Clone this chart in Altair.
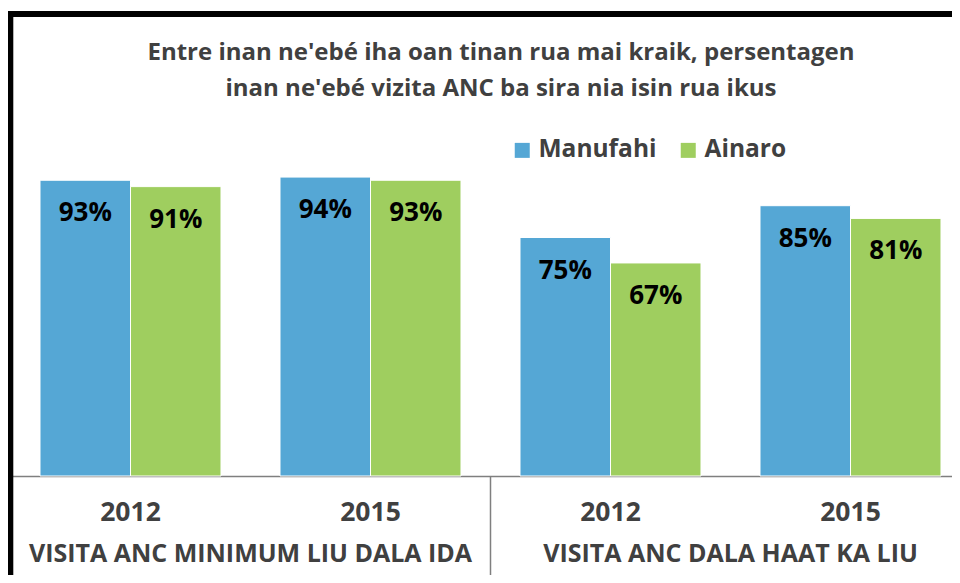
import altair as alt
import pandas as pd

categories = ["VISITA ANC MINIMUM LIU DALA IDA", "VISITA ANC DALA HAAT KA LIU"]
years = ["2012", "2015"]
series = ["Manufahi", "Ainaro"]
manufahi = [93, 94, 75, 85]
ainaro = [91, 93, 67, 81]
title_lines = [
    "Entre inan ne'ebé iha oan tinan rua mai kraik, persentagen",
    "inan ne'ebé vizita ANC ba sira nia isin rua ikus",
]
colors = ["#55A7D5", "#9FCE5F"]

FONT = "Open Sans"
GREY = "#404040"
W, H = 937, 318

rows = []
keys = []
for ci, cat in enumerate(categories):
    for yi, yr in enumerate(years):
        k = f"{cat}|{yr}"
        keys.append(k)
        idx = ci * 2 + yi
        rows.append(dict(key=k, series=series[0], value=manufahi[idx]))
        rows.append(dict(key=k, series=series[1], value=ainaro[idx]))
df = pd.DataFrame(rows)
cat_df = pd.DataFrame({"key": [f"{c}|{years[0]}" for c in categories], "label": categories})
sep_df = pd.DataFrame({"key": [f"{categories[1]}|{years[0]}"]})
one = pd.DataFrame({"a": [0]})

xscale = alt.Scale(domain=keys, range=[-4.5, 955.5], paddingInner=0, paddingOuter=0)
xaxis = alt.Axis(
    labelExpr="split(datum.value, '|')[1]",
    labelFont=FONT, labelFontSize=26.5, labelFontWeight="bold", labelColor=GREY,
    labelPadding=23, labelAngle=0, ticks=False, grid=False,
    domainColor="#7F7F7F", domainWidth=1.5, title=None,
    labelOverlap=False, labelBound=False,
)
x_enc = alt.X("key:N", scale=xscale, sort=keys, axis=xaxis)
xoff = alt.XOffset("series:N", sort=series,
                   scale=alt.Scale(domain=series, paddingInner=0, paddingOuter=0.326))
y_enc = alt.Y("value:Q", scale=alt.Scale(domain=[0, 100]), axis=None)

bars = alt.Chart(df).mark_bar(stroke="white", strokeWidth=1).encode(
    x=x_enc, xOffset=xoff, y=y_enc,
    color=alt.Color(
        "series:N", sort=series,
        scale=alt.Scale(domain=series, range=colors),
        legend=alt.Legend(
            title=None, orient="none", legendX=495, legendY=-20, direction="horizontal",
            symbolType="square", symbolSize=225, symbolStrokeWidth=0,
            labelFont=FONT, labelFontSize=24.5, labelFontWeight="bold", labelColor=GREY,
            labelOffset=4, columnPadding=19,
        ),
    ),
)

labels = alt.Chart(df).transform_calculate(
    lab="datum.value + '%'"
).mark_text(font=FONT, fontSize=26, fontWeight="bold", color="black",
            baseline="middle", dy=33).encode(
    x=x_enc, xOffset=xoff, y=y_enc, text="lab:N"
)

cat_text = alt.Chart(cat_df).mark_text(
    font=FONT, fontSize=25, fontWeight="bold", color=GREY, baseline="middle"
).encode(
    x=alt.X("key:N", scale=xscale, sort=keys, axis=xaxis, bandPosition=1),
    y=alt.value(H + 78),
    text="label:N",
)

sep = alt.Chart(sep_df).mark_rule(color="#7F7F7F", strokeWidth=1.5).encode(
    x=alt.X("key:N", scale=xscale, sort=keys, axis=xaxis, bandPosition=0),
    y=alt.value(H), y2=alt.value(H + 130),
)

border_top = alt.Chart(one).mark_rule(color="black", strokeWidth=6).encode(
    x=alt.value(-8), x2=alt.value(W + 20), y=alt.value(-144)
)
border_left = alt.Chart(one).mark_rule(color="black", strokeWidth=6).encode(
    x=alt.value(-4.7), y=alt.value(-147), y2=alt.value(H + 130)
)

title1 = alt.Chart(one).mark_text(
    font=FONT, fontSize=24, fontWeight="bold", color=GREY, baseline="middle"
).encode(x=alt.value(486), y=alt.value(-105), text=alt.value(title_lines[0]))
title2 = alt.Chart(one).mark_text(
    font=FONT, fontSize=24, fontWeight="bold", color=GREY, baseline="middle"
).encode(x=alt.value(486), y=alt.value(-69), text=alt.value(title_lines[1]))

chart = alt.layer(
    bars, labels, cat_text, sep, border_top, border_left, title1, title2
).properties(
    width=W, height=H,
    autosize=alt.AutoSizeParams(type="none"),
    padding={"left": 7, "top": 150, "right": 0, "bottom": 99},
).configure_view(stroke=None)

chart.save("out.html", embed_options={"renderer": "svg", "actions": False})
